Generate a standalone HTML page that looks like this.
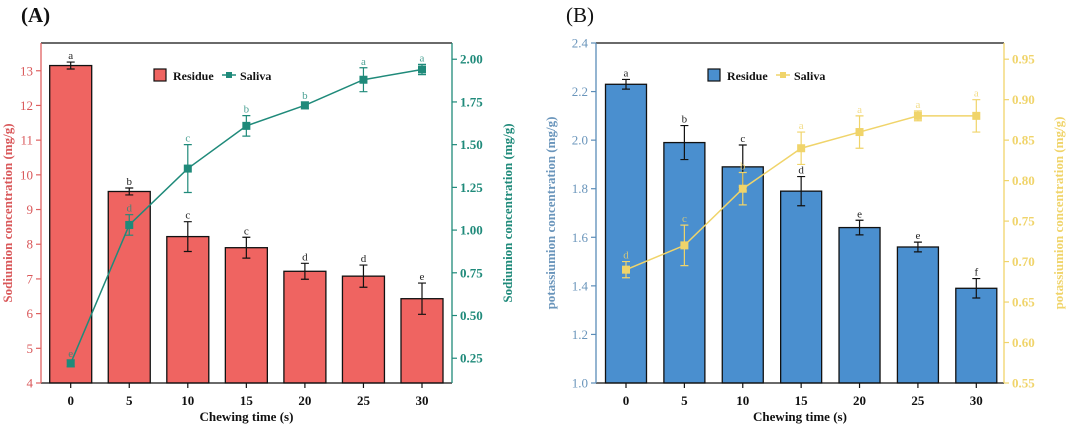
<!DOCTYPE html>
<html><head><meta charset="utf-8"><style>
body{margin:0;background:#fff}
svg{display:block;font-family:"Liberation Serif",serif}
</style></head><body>
<svg id="c" width="1080" height="428" viewBox="0 0 1080 428" xmlns="http://www.w3.org/2000/svg"></svg>
<script>
const times=[0,5,10,15,20,25,30];
const naResidue=[13.15,9.52,8.22,7.9,7.22,7.08,6.43];
const naResidueErr=[0.1,0.1,0.43,0.3,0.23,0.32,0.45];
const naResidueLetters=['a','b','c','c','d','d','e'];
const naSaliva=[0.22,1.03,1.36,1.61,1.73,1.88,1.94];
const naSalivaErr=[0.02,0.06,0.14,0.06,0.02,0.07,0.03];
const naSalivaLetters=['e','d','c','b','b','a','a'];
const naLeftTicks=[4,5,6,7,8,9,10,11,12,13];
const naRightTicks=['0.25','0.50','0.75','1.00','1.25','1.50','1.75','2.00'];
const kResidue=[2.23,1.99,1.89,1.79,1.64,1.56,1.39];
const kResidueErr=[0.02,0.07,0.09,0.06,0.03,0.02,0.04];
const kResidueLetters=['a','b','c','d','e','e','f'];
const kSaliva=[0.69,0.72,0.79,0.84,0.86,0.88,0.88];
const kSalivaErr=[0.01,0.025,0.02,0.02,0.02,0.006,0.02];
const kSalivaLetters=['d','c','b','a','a','a','a'];
const kLeftTicks=['1.0','1.2','1.4','1.6','1.8','2.0','2.2','2.4'];
const kRightTicks=['0.55','0.60','0.65','0.70','0.75','0.80','0.85','0.90','0.95'];

const svg=document.getElementById('c');
const NS='http://www.w3.org/2000/svg';
function mk(tag,attrs,parent,text){const e=document.createElementNS(NS,tag);for(const k in attrs)e.setAttribute(k,attrs[k]);if(text!==undefined)e.textContent=text;(parent||svg).appendChild(e);return e;}

function panel(o){
  const g=mk('g',{});
  
  
  const L=o.x0,R=o.x1,T=43,B=383;
  const yl=v=>B-(v-o.lmin)/(o.lmax-o.lmin)*(B-T);
  const yr=v=>B-(v-o.rmin)/(o.rmax-o.rmin)*(B-T);
  const xs=t=>o.xa+(t-times[0])/(times[times.length-1]-times[0])*(o.xb-o.xa);
  const lbl=mk('text',{x:o.lblx,y:22,'font-size':21,'font-weight':o.boldLbl?'bold':'normal',fill:'#111'},g,o.label);
  
  
  // bars
  o.res.forEach((v,i)=>{
    const x=xs(times[i]);
    const r=mk('rect',{x:x-o.bw/2,y:yl(v),width:o.bw,height:B-yl(v),fill:o.barColor,stroke:'#111','stroke-width':1.3},g);
    
    
    const e=o.resErr[i];
    mk('path',{d:`M${x},${yl(v+e)}V${yl(v-e)}M${x-4},${yl(v+e)}H${x+4}M${x-4},${yl(v-e)}H${x+4}`,stroke:'#111','stroke-width':1.2,fill:'none'},g);
    const t=mk('text',{x:x,y:yl(v+e)-3,'font-size':11,'text-anchor':'middle',fill:'#222'},g,o.resL[i]);
    
    
  });
  // saliva line
  let d='';
  o.sal.forEach((v,i)=>{d+=(i?'L':'M')+xs(times[i])+','+yr(v);});
  const ln=mk('path',{d:d,stroke:o.lineColor,'stroke-width':1.5,fill:'none'},g);
  
  
  o.sal.forEach((v,i)=>{
    const x=xs(times[i]),e=o.salErr[i];
    mk('path',{d:`M${x},${yr(v+e)}V${yr(v-e)}M${x-4},${yr(v+e)}H${x+4}M${x-4},${yr(v-e)}H${x+4}`,stroke:o.lineColor,'stroke-width':1.2,fill:'none'},g);
    const p=mk('rect',{x:x-4,y:yr(v)-4,width:8,height:8,fill:o.lineColor},g);
    
    
    const t=mk('text',{x:x,y:yr(v+e)-3,'font-size':11,'text-anchor':'middle',fill:o.lineColor,opacity:0.8},g,o.salL[i]);
    
    
  });
  // axes
  mk('line',{x1:L,y1:T,x2:R,y2:T,stroke:'#111','stroke-width':1.3},g);
  mk('line',{x1:L,y1:B,x2:R,y2:B,stroke:'#111','stroke-width':1.3},g);
  mk('line',{x1:L,y1:T,x2:L,y2:B,stroke:o.leftAxis,'stroke-width':1.3},g);
  mk('line',{x1:R,y1:T,x2:R,y2:B,stroke:o.rightAxis,'stroke-width':1.3},g);
  o.lt.forEach(t=>{const y=yl(+t);
    mk('line',{x1:L-5,y1:y,x2:L,y2:y,stroke:o.leftAxis,'stroke-width':1.2},g);
    const tx=mk('text',{x:L-8,y:y+4.5,'font-size':13,'text-anchor':'end',fill:o.leftText},g,t);
    
    });
  o.rt.forEach(t=>{const y=yr(+t);
    mk('line',{x1:R,y1:y,x2:R+5,y2:y,stroke:o.rightAxis,'stroke-width':1.2},g);
    const tx=mk('text',{x:R+8,y:y+4.5,'font-size':13,'font-weight':'bold','text-anchor':'start',fill:o.rightText},g,t);
    
    });
  times.forEach(t=>{const x=xs(t);
    mk('line',{x1:x,y1:B,x2:x,y2:B+5,stroke:'#111','stroke-width':1.2},g);
    const tx=mk('text',{x:x,y:B+22,'font-size':13,'font-weight':'bold','text-anchor':'middle',fill:'#111'},g,t);
    
    });
  const xt=mk('text',{x:(L+R)/2,y:421,'font-size':13,'font-weight':'bold','text-anchor':'middle',fill:'#111'},g,'Chewing time (s)');
  
  
  const ylt=mk('text',{transform:`translate(${o.ylx},${(T+B)/2}) rotate(-90)`,'font-size':13,'font-weight':'bold','text-anchor':'middle',fill:o.leftText},g,o.ytitle);
  
  
  const yrt=mk('text',{transform:`translate(${o.yrx},${(T+B)/2}) rotate(-90)`,'font-size':13,'font-weight':'bold','text-anchor':'middle',fill:o.rightText},g,o.ytitle);
  
  
  // legend
  const lg=mk('g',{},g);
  
  
  mk('rect',{x:o.lgx,y:69,width:12,height:12,fill:o.barColor,stroke:'#111','stroke-width':1.2},lg);
  mk('text',{x:o.lgx+19,y:80,'font-size':12,'font-weight':'bold',fill:'#111'},lg,'Residue');
  mk('line',{x1:o.lgx+68,y1:75,x2:o.lgx+82,y2:75,stroke:o.lineColor,'stroke-width':1.5},lg);
  mk('rect',{x:o.lgx+72,y:72,width:6,height:6,fill:o.lineColor},lg);
  mk('text',{x:o.lgx+86,y:80,'font-size':12,'font-weight':'bold',fill:'#111'},lg,'Saliva');
}

panel({name:'panel-a-sodium',label:'(A)',lblx:21,boldLbl:true,x0:41,x1:452,xa:70.7,xb:422,bw:42,
  lmin:4,lmax:13.8,rmin:0.105,rmax:2.095,res:naResidue,resErr:naResidueErr,resL:naResidueLetters,
  sal:naSaliva,salErr:naSalivaErr,salL:naSalivaLetters,lt:naLeftTicks,rt:naRightTicks,
  barColor:'#ef6461',lineColor:'#1f8a7a',leftAxis:'#e06060',rightAxis:'#1f8a7a',leftText:'#d9585a',rightText:'#1f8a7a',
  ytitle:'Sodiumion concentration (mg/g)',ylx:12,yrx:512,lgx:154});
panel({name:'panel-b-potassium',label:'(B)',lblx:566,boldLbl:false,x0:596,x1:1004,xa:626,xb:976.3,bw:41,
  lmin:1.0,lmax:2.4,rmin:0.55,rmax:0.97,res:kResidue,resErr:kResidueErr,resL:kResidueLetters,
  sal:kSaliva,salErr:kSalivaErr,salL:kSalivaLetters,lt:kLeftTicks,rt:kRightTicks,
  barColor:'#4a8fcf',lineColor:'#f0d46a',leftAxis:'#5b8db8',rightAxis:'#f0d46a',leftText:'#6a95bb',rightText:'#f0d46a',
  ytitle:'potassiumion concentration (mg/g)',ylx:555,yrx:1063,lgx:708});
</script>
</body></html>
